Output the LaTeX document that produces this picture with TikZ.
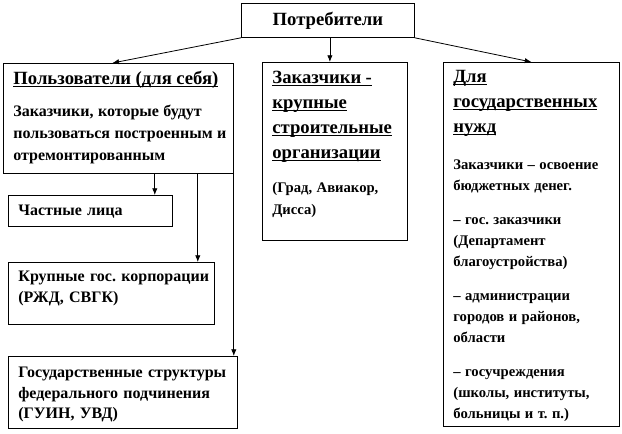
\documentclass[tikz,border=0pt]{standalone}
\usepackage{fontspec}
\setmainfont{Liberation Serif}
\usetikzlibrary{arrows.meta}
\frenchspacing

\newsavebox\hdrbox
\newcommand{\hdr}[1]{\leavevmode\sbox\hdrbox{#1}\rlap{\rule[-1.6pt]{\wd\hdrbox}{0.7pt}}\usebox\hdrbox}

\tikzset{
	blk/.style={draw, line width=0.6pt, anchor=north west, align=left,
		inner xsep=7.5pt, inner ysep=3pt, font=\bfseries},
	conn/.style={line width=0.6pt, -{Latex[length=5pt,width=4pt]}},
}

\begin{document}
\begin{tikzpicture}[x=0.75pt,y=-0.75pt]
	\useasboundingbox (0,0) rectangle (622,433);
	% top
	\node [draw, line width=0.6pt, anchor=north west, inner sep=0pt,
		minimum width=129.75pt, minimum height=25.5pt,
		font=\bfseries\fontsize{14}{17}\selectfont] (cons) at (241,3) {Потребители};
	% three groups
	\node [blk, text width=157.5pt, text height=12.75pt, text depth=63.75pt] (users) at (3,63) {%
		{\fontsize{14}{17}\selectfont \hdr{Пользователи (для себя)}\par}
		\vspace{7.5pt}
		{\fontsize{12}{16.5}\selectfont \mbox{Заказчики, которые будут}\\ \mbox{пользоваться построенным и}\\ \mbox{отремонтированным}\par}};
	\node [blk, text width=93.75pt, text height=12.75pt, text depth=115pt] (mid) at (262,62) {%
		{\fontsize{14}{18.75}\selectfont \hdr{Заказчики -}\\ \hdr{крупные}\\ \hdr{строительные}\\ \hdr{организации}\par}
		\vspace{9pt}
		{\fontsize{11}{16.5}\selectfont \mbox{(Град, Авиакор,}\\ Дисса)\par}};
	\node [blk, text width=117pt, text height=12pt, text depth=255pt] (gov) at (443,62) {%
		{\fontsize{14}{18.75}\selectfont \hdr{Для}\\ \hdr{государственных}\\ \hdr{нужд}\par}
		\vspace{11.75pt}
		{\fontsize{11}{16}\selectfont \mbox{Заказчики – освоение}\\ \mbox{бюджетных денег.}\par
		\vspace{9pt}
		– гос. заказчики\\ (Департамент\\ благоустройства)\par
		\vspace{9pt}
		– администрации\\ \mbox{городов и районов,}\\ области\par
		\vspace{9pt}
		– госучреждения\\ \mbox{(школы, институты,}\\ \mbox{больницы и т. п.)}\par}};
	% users subgroups
	\node [blk, text width=108pt, text height=12pt, text depth=5.25pt,
		font=\bfseries\fontsize{12}{15.5}\selectfont] (private) at (8,195) {Частные лица};
	\node [blk, text width=139.5pt, text height=11.25pt, text depth=29.25pt,
		font=\bfseries\fontsize{12}{15.75}\selectfont] (corp) at (8,262) {\mbox{Крупные гос. корпорации}\\ (РЖД, СВГК)};
	\node [blk, text width=156.75pt, text height=12.75pt, text depth=35.25pt,
		font=\bfseries\fontsize{12}{15.5}\selectfont] (fed) at (8,356) {\mbox{Государственные структуры}\\ \mbox{федерального подчинения}\\ (ГУИН, УВД)};
	% connectors
	\draw [conn] (cons.south west) -- ([xshift=-4.5pt]users.north);
	\draw [conn] ([xshift=1.5pt]cons.south) -- ([xshift=1.5pt]cons.south |- mid.north);
	\draw [conn] (cons.south east) -- (gov.north);
	\draw [conn] ([xshift=-13.5pt]private.north east |- users.south) -- ([xshift=-13.5pt]private.north east);
	\draw [conn] ([xshift=-12.75pt]corp.north east |- users.south) -- ([xshift=-12.75pt]corp.north east);
	\draw [conn] (users.south east) -- (users.south east |- fed.north);
\end{tikzpicture}
\end{document}
